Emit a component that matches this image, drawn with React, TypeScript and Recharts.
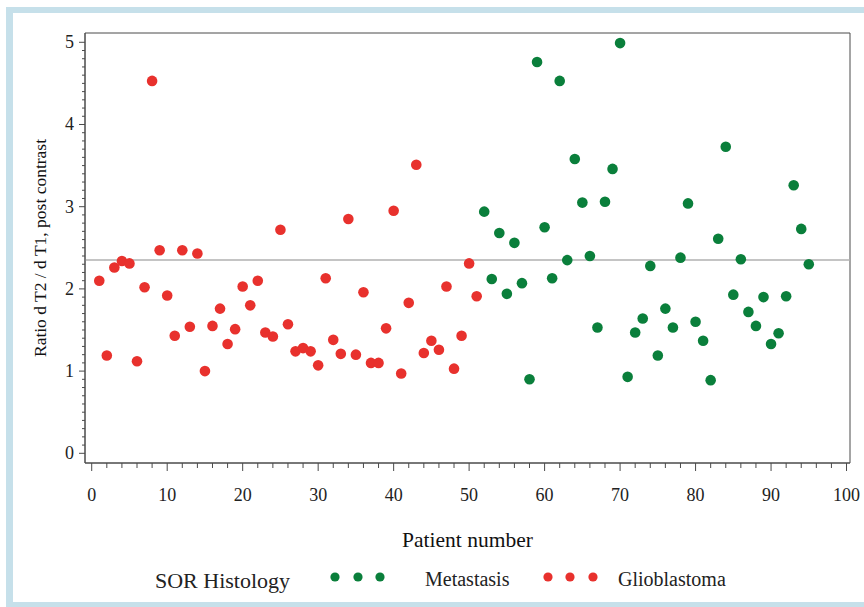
import React from "react";
import {
  ScatterChart,
  Scatter,
  XAxis,
  YAxis,
  ReferenceLine,
  ReferenceArea,
  Legend,
  Label,
} from "recharts";

const gbmPatients = [
  1, 2, 3, 4, 5, 6, 7, 8, 9, 10, 11, 12, 13, 14, 15, 16, 17, 18, 19, 20, 21, 22, 23, 24, 25,
  26, 27, 28, 29, 30, 31, 32, 33, 34, 35, 36, 37, 38, 39, 40, 41, 42, 43, 44, 45, 46, 47, 48, 49, 50, 51,
];
const gbmRatio = [
  2.1, 1.19, 2.26, 2.34, 2.31, 1.12, 2.02, 4.53, 2.47, 1.92, 1.43, 2.47, 1.54, 2.43, 1.0, 1.55, 1.76,
  1.33, 1.51, 2.03, 1.8, 2.1, 1.47, 1.42, 2.72, 1.57, 1.24, 1.28, 1.24, 1.07, 2.13, 1.38, 1.21, 2.85,
  1.2, 1.96, 1.1, 1.1, 1.52, 2.95, 0.97, 1.83, 3.51, 1.22, 1.37, 1.26, 2.03, 1.03, 1.43, 2.31, 1.91,
];

const metPatients = [
  52, 53, 54, 55, 56, 57, 58, 59, 60, 61, 62, 63, 64, 65, 66, 67, 68, 69, 70, 71, 72, 73, 74, 75,
  76, 77, 78, 79, 80, 81, 82, 83, 84, 85, 86, 87, 88, 89, 90, 91, 92, 93, 94, 95,
];
const metRatio = [
  2.94, 2.12, 2.68, 1.94, 2.56, 2.07, 0.9, 4.76, 2.75, 2.13, 4.53, 2.35, 3.58, 3.05, 2.4, 1.53, 3.06,
  3.46, 4.99, 0.93, 1.47, 1.64, 2.28, 1.19, 1.76, 1.53, 2.38, 3.04, 1.6, 1.37, 0.89, 2.61, 3.73, 1.93,
  2.36, 1.72, 1.55, 1.9, 1.33, 1.46, 1.91, 3.26, 2.73, 2.3,
];

const referenceValue = 2.35;

const xMajorTicks = [0, 10, 20, 30, 40, 50, 60, 70, 80, 90, 100];
const yMajorTicks = [0, 1, 2, 3, 4, 5];
const xAllTicks = Array.from({ length: 51 }, (_, i) => i * 2);
const yAllTicks = Array.from({ length: 51 }, (_, i) => i / 10);

const gbmData = gbmPatients.map((p, i) => ({ patient: p, ratio: gbmRatio[i] }));
const metData = metPatients.map((p, i) => ({ patient: p, ratio: metRatio[i] }));

const RED = "#e8312d";
const GREEN = "#0a7f3b";
const AXIS = "#4a4a4a";
const FONT = "Liberation Serif";

const isMajor = (v: number, list: number[]) => list.some((m) => Math.abs(m - v) < 1e-6);

const tickTextStyle = { fontFamily: FONT, fontSize: 18, fill: "#222" };

const YTick = (props: any) => {
  const { x, y, payload } = props;
  const v = payload.value;
  const major = isMajor(v, yMajorTicks);
  return (
    <g>
      <line x1={x} x2={x - (major ? 6 : 3)} y1={y} y2={y} stroke={AXIS} strokeWidth={1} />
      {major && (
        <text x={x - 11} y={y} textAnchor="end" dominantBaseline="central" style={tickTextStyle}>
          {Math.round(v)}
        </text>
      )}
    </g>
  );
};

const XTick = (props: any) => {
  const { x, y, payload } = props;
  const v = payload.value;
  const major = isMajor(v, xMajorTicks);
  return (
    <g>
      <line x1={x} x2={x} y1={y} y2={y + (major ? 8 : 5)} stroke={AXIS} strokeWidth={1} />
      {major && (
        <text x={x} y={y + 32} textAnchor="middle" dominantBaseline="central" style={tickTextStyle}>
          {Math.round(v)}
        </text>
      )}
    </g>
  );
};

const Dot = (color: string) => (props: any) => {
  const { cx, cy } = props;
  if (cx == null || cy == null) return <g />;
  return <circle cx={cx} cy={cy} r={5.3} fill={color} />;
};

const legendGroups = [
  { name: "Metastasis", color: GREEN, dotX: [335, 358, 380], textX: 425 },
  { name: "Glioblastoma", color: RED, dotX: [548, 570, 593], textX: 618 },
];

const legendText = { fontFamily: FONT, fontSize: 20, fill: "#222" };

const renderLegend = () => (
  <svg width={864} height={40} style={{ display: "block" }}>
    <text x={155} y={13} dominantBaseline="central" style={{ ...legendText, fontSize: 22 }}>
      SOR Histology
    </text>
    {legendGroups.map((g) => (
      <g key={g.name}>
        {g.dotX.map((dx) => (
          <circle key={dx} cx={dx} cy={10} r={4.6} fill={g.color} />
        ))}
        <text x={g.textX} y={12} dominantBaseline="central" style={legendText}>
          {g.name}
        </text>
      </g>
    ))}
  </svg>
);

export default function App() {
  return (
    <div
      style={{
        position: "absolute",
        left: 0,
        top: 0,
        width: 864,
        height: 607,
        background: "#ffffff",
      }}
    >
      <div
        style={{
          position: "absolute",
          left: 6,
          top: 7,
          right: -10,
          bottom: 0,
          borderLeft: "7px solid #c6e0ea",
          borderTop: "6px solid #c6e0ea",
          borderBottom: "5px solid #c6e0ea",
          boxSizing: "border-box",
        }}
      />
      <div style={{ position: "absolute", left: 0, top: 0 }}>
        <ScatterChart
          width={864}
          height={607}
          margin={{ top: 33, right: 14, bottom: 0, left: 0 }}
        >
          <XAxis
            type="number"
            dataKey="patient"
            domain={[-0.89, 100.46]}
            allowDataOverflow
            ticks={xAllTicks}
            interval={0}
            tick={<XTick />}
            tickLine={false}
            tickSize={0}
            tickMargin={0}
            axisLine={{ stroke: AXIS }}
            height={104}
          >
            <Label
              value="Patient number"
              position="center"
              dy={24}
              style={{ fontFamily: FONT, fontSize: 21.5, fill: "#111" }}
            />
          </XAxis>
          <YAxis
            type="number"
            dataKey="ratio"
            domain={[-0.118, 5.113]}
            allowDataOverflow
            ticks={yAllTicks}
            interval={0}
            tick={<YTick />}
            tickLine={false}
            tickSize={0}
            tickMargin={0}
            axisLine={{ stroke: AXIS }}
            width={85}
          >
            <Label
              value="Ratio d T2 / d T1, post contrast"
              angle={-90}
              position="center"
              dx={-3}
              style={{ fontFamily: FONT, fontSize: 17.5, fill: "#111", textAnchor: "middle" }}
            />
          </YAxis>
          <ReferenceArea
            x1={-0.89}
            x2={100.46}
            y1={-0.118}
            y2={5.113}
            fill="none"
            stroke={AXIS}
            strokeWidth={1}
            ifOverflow="visible"
          />
          <ReferenceLine y={referenceValue} stroke="#b0b0b0" strokeWidth={1.5} />
          <Scatter
            name="Glioblastoma"
            data={gbmData}
            fill={RED}
            shape={Dot(RED)}
            isAnimationActive={false}
          />
          <Scatter
            name="Metastasis"
            data={metData}
            fill={GREEN}
            shape={Dot(GREEN)}
            isAnimationActive={false}
          />
          <Legend verticalAlign="bottom" height={40} content={renderLegend} />
        </ScatterChart>
      </div>
    </div>
  );
}
